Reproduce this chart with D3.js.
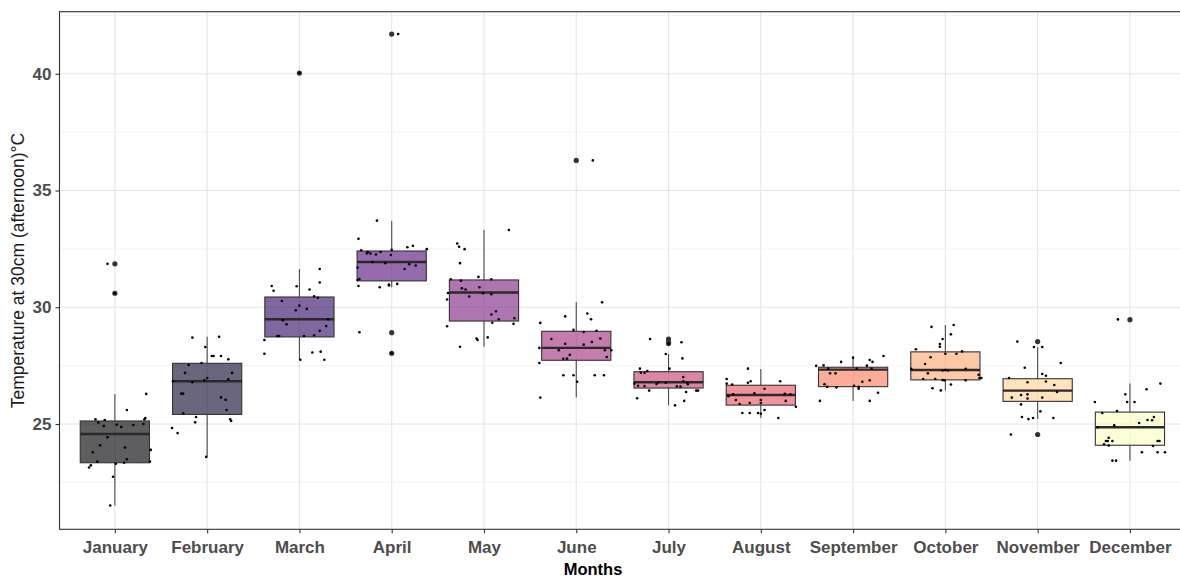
<!DOCTYPE html>
<html>
<head>
<meta charset="utf-8">
<script src="https://cdn.jsdelivr.net/npm/d3@7"></script>
<style>
  html, body { margin: 0; padding: 0; background: #ffffff; }
  svg { display: block; font-family: "Liberation Sans", Arial, sans-serif; }
</style>
</head>
<body>
<svg id="chart" width="1180" height="578"></svg>
<script>
// Months on the x axis
const months = ["January", "February", "March", "April", "May", "June",
                "July", "August", "September", "October", "November", "December"];

// Box statistics per month (°C)
const q1          = [23.34, 25.41, 28.73, 31.13, 29.41, 27.73, 26.54, 25.81, 26.60, 26.89, 25.97, 24.09];
const medians     = [24.57, 26.83, 29.49, 31.94, 30.63, 28.26, 26.79, 26.24, 27.33, 27.31, 26.43, 24.86];
const q3          = [25.13, 27.60, 30.44, 32.41, 31.17, 28.97, 27.24, 26.66, 27.43, 28.09, 26.94, 25.51];
const whiskerLow  = [21.51, 23.59, 27.75, 30.86, 28.31, 26.13, 25.80, 25.26, 25.99, 26.44, 25.21, 23.43];
const whiskerHigh = [26.29, 28.74, 31.64, 33.70, 33.31, 30.21, 28.00, 27.36, 27.91, 29.24, 28.30, 26.73];
const outliers = [
  [31.86, 30.60], [], [40.03], [41.70, 28.91, 28.03], [], [36.29],
  [28.64, 28.50, 28.45], [], [], [], [28.53, 24.55], [29.47]
];

// Daily afternoon temperatures at 30 cm (°C)
const dailyTemps = [
  [25.2, 25.17, 25.06, 24.91, 24.97, 24.87, 24.96, 25.2, 25.26, 25.0, 25.6, 26.29, 24.43, 24.09, 23.79, 23.99,
   23.89, 23.49, 23.39, 23.3, 23.34, 23.39, 23.23, 23.14, 22.74, 21.51, 31.86, 30.6],
  [28.7, 28.74, 28.3, 27.91, 27.91, 27.91, 27.77, 27.61, 27.53, 27.19, 27.19, 26.97, 26.87, 26.79, 26.91, 26.83,
   26.3, 26.3, 26.14, 26.04, 25.6, 25.46, 25.3, 25.07, 25.2, 25.13, 24.83, 24.61, 23.59],
  [31.64, 31.06, 30.91, 30.71, 30.9, 30.76, 30.47, 30.41, 30.27, 30.07, 29.93, 29.87, 29.49, 29.44, 29.27, 29.2,
   28.99, 28.77, 28.77, 28.77, 28.8, 28.6, 28.01, 28.06, 28.1, 27.75, 27.75, 40.03],
  [33.71, 32.93, 32.44, 32.31, 32.36, 32.3, 32.26, 32.37, 32.24, 32.46, 32.57, 32.63, 32.49, 31.94, 31.89, 31.84,
   31.79, 31.64, 31.7, 31.17, 31.21, 30.91, 30.86, 30.93, 30.97, 31.0, 28.93, 28.03, 41.7],
  [33.31, 32.73, 32.59, 32.49, 31.89, 31.3, 31.2, 31.14, 31.2, 30.81, 30.76, 30.86, 30.61, 30.6, 30.56, 30.33,
   30.46, 29.83, 29.69, 29.49, 29.53, 29.34, 29.29, 29.19, 28.66, 28.6, 28.71, 28.31],
  [30.21, 29.33, 29.61, 29.73, 29.49, 29.03, 28.94, 28.99, 28.64, 28.44, 28.4, 28.51, 28.66, 28.26, 28.16, 28.16,
   28.16, 27.96, 27.79, 27.8, 27.87, 27.61, 27.09, 27.09, 27.09, 27.09, 26.81, 26.13, 36.29],
  [28.64, 28.5, 28.45, 28.0, 27.81, 27.37, 27.37, 27.2, 27.2, 27.27, 27.01, 26.7, 26.77, 26.83, 26.79, 26.71,
   26.77, 26.73, 26.64, 26.63, 26.61, 26.6, 26.43, 26.37, 26.43, 26.43, 26.1, 25.99, 25.8],
  [27.37, 26.93, 26.77, 26.83, 26.83, 26.73, 26.69, 26.51, 26.27, 26.19, 26.31, 26.29, 26.27, 26.03, 26.03, 25.99,
   25.86, 25.9, 25.9, 25.74, 25.6, 25.47, 25.47, 25.47, 25.44, 25.26],
  [27.91, 27.84, 27.74, 27.66, 27.66, 27.49, 27.51, 27.5, 27.37, 27.37, 27.37, 27.17, 27.17, 26.87, 26.81, 26.7,
   26.59, 26.57, 26.64, 26.59, 26.51, 26.34, 25.99, 25.99],
  [29.16, 29.24, 28.84, 28.64, 28.43, 28.31, 28.2, 28.11, 28.01, 28.01, 27.86, 27.57, 27.36, 27.29, 27.31, 27.29,
   27.36, 27.17, 27.11, 26.97, 26.97, 26.93, 26.93, 26.88, 26.87, 26.87, 26.53, 26.44, 26.69],
  [28.53, 28.3, 28.3, 27.61, 27.41, 27.14, 27.07, 26.97, 26.79, 26.82, 26.67, 26.37, 26.24, 26.27, 26.09, 26.13,
   26.13, 25.84, 25.54, 25.3, 25.21, 25.26, 25.26, 24.55],
  [29.48, 26.73, 26.49, 26.27, 25.94, 25.94, 25.94, 25.56, 25.47, 25.3, 25.17, 25.16, 25.04, 24.94, 24.86, 24.41,
   24.27, 24.27, 24.27, 24.27, 24.27, 24.13, 24.08, 24.06, 23.79, 23.79, 23.79, 23.43, 23.43]
];

// Horizontal jitter of each daily point, in category units
const jitterOffsets = [
  [-0.21, -0.11, -0.18, -0.12, 0.02, 0.07, 0.2, 0.32, 0.33, 0.31, 0.13, 0.34, -0.08, -0.16, -0.24, 0.11,
   0.39, 0.13, -0.19, 0.01, 0.1, 0.38, -0.26, -0.28, -0.02, -0.05, -0.08, 0.0],
  [-0.16, 0.13, -0.02, 0.05, 0.07, 0.15, 0.23, -0.06, -0.2, -0.24, 0.27, 0.0, -0.03, -0.16, 0.23, -0.37,
   -0.28, -0.26, 0.15, 0.2, 0.21, -0.26, -0.12, -0.13, 0.25, 0.26, -0.38, -0.32, -0.01],
  [0.22, 0.22, -0.3, -0.28, -0.03, 0.11, 0.16, 0.2, -0.19, 0.0, 0.08, -0.04, 0.31, -0.18, -0.14, 0.29,
   0.22, -0.24, -0.22, 0.05, 0.16, -0.38, -0.38, 0.14, 0.23, 0.27, 0.01, 0.0],
  [-0.16, -0.36, -0.33, -0.27, -0.26, -0.23, -0.17, -0.12, -0.01, 0.0, 0.17, 0.23, 0.38, -0.21, -0.07, 0.19,
   0.26, 0.14, -0.37, -0.37, -0.35, -0.36, -0.13, -0.03, -0.03, 0.06, -0.35, 0.0, 0.07],
  [0.27, -0.29, -0.27, -0.21, -0.26, -0.06, -0.36, -0.25, 0.08, -0.24, -0.2, -0.05, -0.39, -0.01, 0.08, -0.4,
   -0.16, 0.13, 0.08, 0.16, 0.33, 0.09, 0.32, -0.4, -0.08, -0.07, 0.04, -0.26],
  [0.28, -0.39, -0.12, 0.12, 0.16, -0.03, 0.08, 0.22, -0.27, -0.12, 0.08, 0.17, 0.26, -0.4, -0.19, 0.31,
   0.38, -0.07, -0.14, -0.1, 0.33, -0.4, -0.14, -0.03, 0.2, 0.3, 0.01, -0.39, 0.18],
  [-0.2, 0.14, 0.0, -0.03, 0.15, 0.01, -0.31, -0.3, -0.26, -0.23, 0.16, 0.21, 0.2, 0.16, -0.11, -0.13,
   -0.03, -0.37, -0.33, -0.26, 0.09, 0.13, -0.21, 0.19, 0.3, 0.32, -0.34, 0.17, 0.07],
  [-0.14, -0.37, -0.14, -0.11, 0.21, -0.37, -0.31, 0.04, -0.3, -0.35, -0.07, 0.26, 0.32, -0.27, 0.0, 0.27,
   -0.23, -0.12, 0.0, 0.38, 0.04, -0.2, -0.12, -0.03, 0.0, 0.19],
  [0.33, 0.0, 0.18, 0.21, -0.13, -0.4, -0.32, 0.15, -0.27, 0.04, 0.2, -0.25, -0.19, 0.18, 0.1, -0.31,
   -0.28, -0.18, 0.01, 0.06, 0.06, 0.27, -0.36, 0.18],
  [-0.15, 0.09, 0.06, -0.03, -0.06, -0.06, -0.32, 0.18, 0.0, 0.12, -0.16, -0.22, -0.37, -0.03, 0.0, 0.03,
   0.22, -0.19, 0.36, 0.37, 0.39, -0.24, -0.11, -0.03, -0.01, 0.22, -0.14, -0.05, 0.06],
  [-0.22, -0.04, 0.05, 0.25, -0.14, 0.05, 0.09, -0.31, -0.11, 0.09, 0.18, 0.21, -0.18, -0.11, -0.11, -0.28,
   0.05, -0.18, 0.03, -0.17, -0.1, -0.05, 0.17, -0.29],
  [-0.13, 0.33, 0.18, -0.05, -0.38, -0.03, 0.05, -0.14, -0.3, 0.26, 0.19, 0.24, 0.1, -0.17, -0.35, -0.23,
   -0.26, -0.24, -0.19, 0.3, 0.32, -0.28, -0.23, 0.25, 0.13, 0.3, 0.38, -0.19, -0.15]
];

const yMajor = [25, 30, 35, 40];
const yMinor = [22.5, 27.5, 32.5, 37.5, 42.5];

// ---- layout ----
const svg = d3.select("#chart");
const panel = { left: 59.5, right: 1185.3, top: 11.7, bottom: 529.3 };

const x = d3.scalePoint().domain(months).range([panel.left, panel.right]).padding(0.6);
const y = d3.scaleLinear().domain([20.49, 42.66]).range([panel.bottom, panel.top]);
const step = x.step();
const boxW = step * 0.75;
const fillColor = i => d3.interpolateMagma(i / (months.length - 1));

svg.append("rect").attr("width", 1180).attr("height", 578).attr("fill", "#ffffff");

svg.append("defs").append("clipPath").attr("id", "panel-clip")
  .append("rect")
  .attr("x", panel.left).attr("y", panel.top)
  .attr("width", panel.right - panel.left).attr("height", panel.bottom - panel.top);

const plot = svg.append("g").attr("clip-path", "url(#panel-clip)");

// grid
plot.selectAll("line.minor").data(yMinor).join("line")
  .attr("x1", panel.left).attr("x2", panel.right)
  .attr("y1", d => y(d)).attr("y2", d => y(d))
  .attr("stroke", "#f1f1f1").attr("stroke-width", 0.8);
plot.selectAll("line.major").data(yMajor).join("line")
  .attr("x1", panel.left).attr("x2", panel.right)
  .attr("y1", d => y(d)).attr("y2", d => y(d))
  .attr("stroke", "#e4e4e4").attr("stroke-width", 1);
plot.selectAll("line.vgrid").data(months).join("line")
  .attr("x1", d => x(d)).attr("x2", d => x(d))
  .attr("y1", panel.top).attr("y2", panel.bottom)
  .attr("stroke", "#e4e4e4").attr("stroke-width", 1);

// boxes
months.forEach((m, i) => {
  const cx = x(m);
  const g = plot.append("g");
  g.append("line").attr("x1", cx).attr("x2", cx)
    .attr("y1", y(whiskerHigh[i])).attr("y2", y(q3[i]))
    .attr("stroke", "#4a4a4a").attr("stroke-width", 1.1);
  g.append("line").attr("x1", cx).attr("x2", cx)
    .attr("y1", y(q1[i])).attr("y2", y(whiskerLow[i]))
    .attr("stroke", "#4a4a4a").attr("stroke-width", 1.1);
  g.append("rect")
    .attr("x", cx - boxW / 2).attr("width", boxW)
    .attr("y", y(q3[i])).attr("height", y(q1[i]) - y(q3[i]))
    .attr("fill", fillColor(i)).attr("fill-opacity", 0.63)
    .attr("stroke", "#333333").attr("stroke-width", 1.1);
  g.append("line")
    .attr("x1", cx - boxW / 2).attr("x2", cx + boxW / 2)
    .attr("y1", y(medians[i])).attr("y2", y(medians[i]))
    .attr("stroke", "#2a2a2a").attr("stroke-width", 2.4);
  g.selectAll("circle.out").data(outliers[i]).join("circle")
    .attr("cx", cx).attr("cy", d => y(d)).attr("r", 2.6)
    .attr("fill", "#333333");
});

// daily points
months.forEach((m, i) => {
  const pts = dailyTemps[i].map((v, k) => ({ v, j: jitterOffsets[i][k] }));
  plot.append("g").selectAll("circle").data(pts).join("circle")
    .attr("cx", d => x(m) + d.j * step)
    .attr("cy", d => y(d.v))
    .attr("r", 1.3)
    .attr("fill", "#000000");
});

// panel border
svg.append("rect")
  .attr("x", panel.left).attr("y", panel.top)
  .attr("width", panel.right - panel.left).attr("height", panel.bottom - panel.top)
  .attr("fill", "none").attr("stroke", "#333333").attr("stroke-width", 1.1);

// axes
const xAxis = svg.append("g")
  .attr("transform", `translate(0,${panel.bottom})`)
  .call(d3.axisBottom(x).tickSize(4).tickPadding(8));
const yAxis = svg.append("g")
  .attr("transform", `translate(${panel.left},0)`)
  .call(d3.axisLeft(y).tickValues(yMajor).tickSize(4).tickPadding(4));

[xAxis, yAxis].forEach(a => {
  a.select(".domain").remove();
  a.selectAll(".tick line").attr("stroke", "#333333").attr("stroke-width", 1.1);
  a.selectAll(".tick text")
    .attr("fill", "#4d4d4d")
    .style("font-family", "'Liberation Sans', Arial, sans-serif")
    .style("font-size", "17px")
    .style("font-weight", "bold");
});

// axis titles
svg.append("text")
  .attr("x", 593).attr("y", 575)
  .attr("text-anchor", "middle")
  .style("font-size", "16.5px").style("font-weight", "bold")
  .attr("fill", "#000000")
  .text("Months");

svg.append("text")
  .attr("transform", `translate(24,${(panel.top + panel.bottom) / 2}) rotate(-90)`)
  .attr("text-anchor", "middle")
  .style("font-size", "17.5px")
  .attr("fill", "#1a1a1a")
  .text("Temperature at 30cm (afternoon)°C");
</script>
</body>
</html>
